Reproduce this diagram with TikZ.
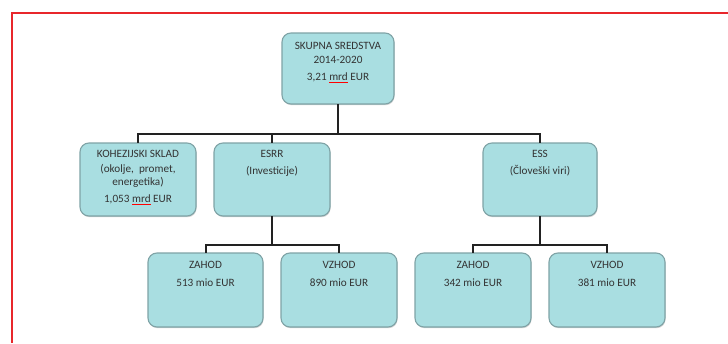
\documentclass[tikz,border=0pt]{standalone}
\usepackage{fontspec}
\setmainfont{Carlito}
\usetikzlibrary{shadows}
\definecolor{boxfill}{HTML}{A9DEE1}
\definecolor{boxline}{HTML}{7FA3A6}
\definecolor{txt}{HTML}{333333}
\definecolor{frame}{HTML}{E8262B}
\definecolor{conn}{HTML}{222222}
\newsavebox\spbox
\newcommand{\spell}[1]{\sbox\spbox{#1}\rlap{\color{red}\rule[-2pt]{\wd\spbox}{0.6pt}}\usebox\spbox}
\tikzset{
  orgbox/.style={draw=boxline, line width=1.1pt, fill=boxfill, rounded corners=9pt,
    drop shadow={shadow xshift=0.6pt, shadow yshift=-1.2pt, fill=black!35, opacity=0.5}},
  boxtext/.style={anchor=north, align=center, text=txt, font=\fontsize{11.2}{13.5}\selectfont, inner sep=0pt},
  conn/.style={draw=conn, line width=2pt}
}
\begin{document}
\begin{tikzpicture}[x=1pt, y=-1pt]
\useasboundingbox (0,0) rectangle (728,343);
\fill[white] (0,0) rectangle (728,343);
% red frame
\draw[frame, line width=1.2pt] (12,343) -- (12,13) -- (729,13);

% boxes
\path[orgbox] (282,33) rectangle (394,104);
\node[minimum width=112pt, minimum height=71pt, inner sep=0pt] (top) at (338,68.5) {};
\path[orgbox] (80,143) rectangle (196,216);
\node[minimum width=116pt, minimum height=73pt, inner sep=0pt] (koh) at (138,179.5) {};
\path[orgbox] (214,143) rectangle (330,216);
\node[minimum width=116pt, minimum height=73pt, inner sep=0pt] (esrr) at (272,179.5) {};
\path[orgbox] (483,143) rectangle (597,216);
\node[minimum width=114pt, minimum height=73pt, inner sep=0pt] (ess) at (540,179.5) {};
\path[orgbox] (148,253) rectangle (263,327);
\node[minimum width=115pt, minimum height=74pt, inner sep=0pt] (z1) at (205.5,290) {};
\path[orgbox] (281,253) rectangle (397,327);
\node[minimum width=116pt, minimum height=74pt, inner sep=0pt] (v1) at (339,290) {};
\path[orgbox] (415,253) rectangle (531,327);
\node[minimum width=116pt, minimum height=74pt, inner sep=0pt] (z2) at (473,290) {};
\path[orgbox] (549,253) rectangle (665,327);
\node[minimum width=116pt, minimum height=74pt, inner sep=0pt] (v2) at (607,290) {};

% texts
\node[boxtext] (ttop) at ([yshift=-9.5pt]top.north) {SKUPNA SREDSTVA\\2014-2020\\[4pt]3,21 \spell{mrd} EUR};
\node[boxtext] (tkoh) at ([yshift=-7.5pt]koh.north) {KOHEZIJSKI SKLAD\\[1pt](okolje,\ \ promet,\\energetika)\\[3pt]1,053 \spell{mrd} EUR};
\node[boxtext] (tesrr) at ([yshift=-7pt]esrr.north) {ESRR\\[4pt](Investicije)};
\node[boxtext] (tess) at ([yshift=-7pt]ess.north) {ESS\\[4pt](Človeški viri)};
\node[boxtext] (tz1) at ([yshift=-8.5pt]z1.north) {ZAHOD\\[4pt]513 mio EUR};
\node[boxtext] (tv1) at ([yshift=-8.5pt]v1.north) {VZHOD\\[4pt]890 mio EUR};
\node[boxtext] (tz2) at ([yshift=-8.5pt]z2.north) {ZAHOD\\[4pt]342 mio EUR};
\node[boxtext] (tv2) at ([yshift=-8.5pt]v2.north) {VZHOD\\[4pt]381 mio EUR};

% connectors
\draw[conn] (top.south) -- ++(0,30) -| (koh.north);
\draw[conn] (top.south) -- ++(0,30) -| (ess.north);
\draw[conn] (top.south) ++(0,30) -| (esrr.north);
\draw[conn] (esrr.south) -- ++(0,29) -| (z1.north);
\draw[conn] (esrr.south) -- ++(0,29) -| (v1.north);
\draw[conn] (ess.south) -- ++(0,29) -| (z2.north);
\draw[conn] (ess.south) -- ++(0,29) -| (v2.north);
\end{tikzpicture}
\end{document}
